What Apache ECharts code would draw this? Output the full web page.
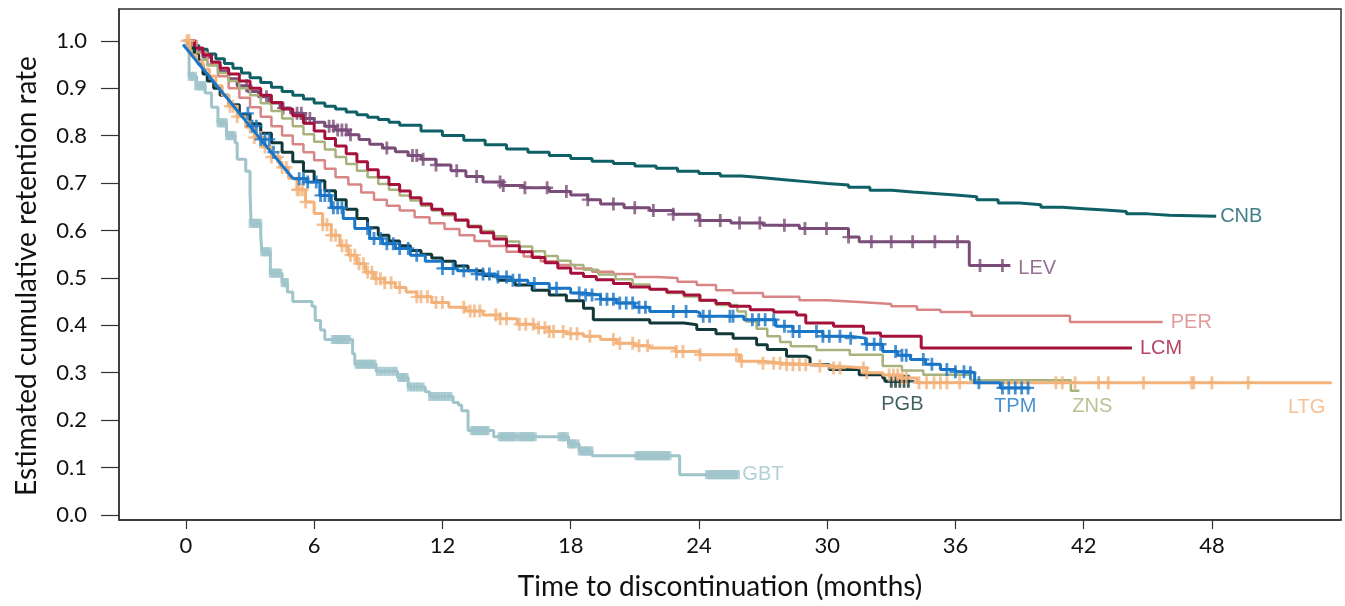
<!DOCTYPE html>
<html><head><meta charset="utf-8">
<script src="https://cdn.jsdelivr.net/npm/echarts@6/dist/echarts.min.js"></script>
<style>html,body{margin:0;padding:0;background:#fff}#c{width:1345px;height:606px}</style>
</head><body><div id="c"></div>
<script>
// ---- Data ----
const X_TICKS = [0, 6, 12, 18, 24, 30, 36, 42, 48];
const Y_TICKS = [0, 0.1, 0.2, 0.3, 0.4, 0.5, 0.6, 0.7, 0.8, 0.9, 1.0];

const T_CNB = [0,0.3,0.6,1,1.4,1.8,2.2,2.6,3,3.5,4,4.5,5,5.5,6,6.5,7,7.5,8,8.5,9,9.5,10,11,12,13,14,15,16,17,18,19,20,21,22,23,24,25,26,27,28,29,30,31,32,33,34,35,36,37,38,39,40,41,42,43,44,45,46,48.2];
const S_CNB = [1,0.99,0.982,0.972,0.962,0.952,0.942,0.932,0.922,0.912,0.902,0.893,0.885,0.877,0.869,0.862,0.856,0.85,0.844,0.839,0.834,0.828,0.822,0.81,0.8,0.79,0.781,0.772,0.765,0.758,0.752,0.746,0.741,0.736,0.731,0.725,0.72,0.715,0.711,0.707,0.703,0.699,0.696,0.691,0.685,0.681,0.678,0.675,0.671,0.665,0.658,0.654,0.649,0.646,0.643,0.64,0.635,0.632,0.63,0.63];

const T_LEV = [0,0.4,0.8,1.2,1.6,2.0,2.4,2.9,3.4,3.9,4.4,4.9,5.5,6.0,6.5,7.0,7.6,8.1,8.6,9.2,9.8,10.4,11.0,11.7,12.4,13.1,13.9,14.8,15.8,17,18,18.8,19.4,20.5,21.7,22.8,24,25.5,27,28.7,31,31.5,36.65,38.57];
const S_LEV = [0.995,0.98,0.965,0.95,0.935,0.92,0.905,0.893,0.882,0.869,0.858,0.847,0.836,0.828,0.82,0.812,0.802,0.792,0.782,0.774,0.766,0.758,0.75,0.738,0.726,0.714,0.702,0.695,0.69,0.682,0.675,0.665,0.656,0.648,0.642,0.634,0.621,0.616,0.611,0.604,0.586,0.576,0.526,0.526];
const C_LEV = [2.84,3.77,4.55,5.2,5.4,5.6,5.8,6.7,6.9,7.1,7.3,7.5,7.7,9.4,10.6,10.8,11.1,11.7,12.67,13.6,14.7,14.85,15.86,16.9,17.8,18.8,20.0,21.0,21.87,22.8,24.05,25.0,25.9,26.85,28.0,28.96,29.97,31.0,32.07,33.0,34.0,35.04,36.1,37.15,38.2];

const T_PER = [0,0.5,1,1.5,2,2.5,3,3.5,4,4.5,5,5.5,6,6.5,7,7.6,8.2,8.8,9.4,10,10.7,11.4,12.1,12.8,13.5,14.2,15,15.8,16.6,17.4,18.2,19,20,21,22,23,23.9,24.8,25.6,27,28.7,30,31.5,33,34.2,35.3,36.76,41.36,45.7];
const S_PER = [1,0.975,0.95,0.925,0.9,0.88,0.86,0.84,0.82,0.8,0.782,0.765,0.748,0.73,0.712,0.697,0.68,0.665,0.652,0.642,0.628,0.615,0.603,0.59,0.578,0.567,0.555,0.545,0.535,0.527,0.52,0.513,0.508,0.502,0.5,0.492,0.485,0.474,0.468,0.46,0.453,0.449,0.445,0.44,0.433,0.428,0.42,0.407,0.407];

const T_LCM = [0,0.4,0.8,1.2,1.6,2.0,2.5,3,3.5,4,4.5,5,5.5,6,6.5,7,7.5,8,8.5,9,9.5,10,10.5,11,11.5,12,12.6,13.2,13.8,14.4,15,15.6,16.2,16.8,17.4,18,18.6,19.2,20,20.8,21.7,22.5,23.3,24.05,24.8,25.45,26.4,27.5,28.57,29,30.3,31.7,32.5,34.4,44.26];
const S_LCM = [1,0.985,0.97,0.955,0.942,0.93,0.915,0.9,0.885,0.87,0.856,0.842,0.826,0.81,0.794,0.778,0.762,0.745,0.728,0.712,0.697,0.683,0.669,0.656,0.645,0.635,0.622,0.608,0.595,0.582,0.568,0.555,0.543,0.532,0.521,0.51,0.503,0.496,0.488,0.481,0.476,0.47,0.464,0.453,0.446,0.44,0.433,0.428,0.422,0.405,0.398,0.384,0.377,0.352,0.352];

const T_ZNS = [0,0.3,0.6,1,1.5,2,2.5,3,3.5,4,4.5,5,5.5,6,6.5,7,7.5,8,8.5,9,9.5,10,10.5,11,11.5,12,12.6,13.2,13.8,14.4,15,15.6,16.2,16.8,17.4,18,18.6,19.3,20.1,20.9,21.7,22.5,23.3,24,24.8,25.8,26.2,26.7,27.2,27.8,28.3,29.5,31.06,32.6,33.5,34.5,36.7,41.4,41.8];
const S_ZNS = [1,0.975,0.96,0.948,0.932,0.915,0.9,0.885,0.868,0.852,0.836,0.82,0.803,0.787,0.771,0.755,0.74,0.726,0.712,0.698,0.686,0.674,0.663,0.652,0.642,0.632,0.621,0.61,0.599,0.588,0.577,0.566,0.556,0.546,0.536,0.527,0.517,0.507,0.497,0.486,0.476,0.468,0.461,0.452,0.443,0.429,0.408,0.393,0.377,0.365,0.356,0.348,0.338,0.314,0.305,0.296,0.284,0.262,0.262];

const T_PGB = [0,0.2,0.4,0.6,0.8,1.0,1.3,1.6,2.0,2.5,3,3.5,4,4.5,5,5.5,6,6.5,7,7.5,8,8.5,9,9.5,10,10.5,11,11.5,12,12.6,13.2,13.9,14.6,15.4,16.2,17,17.8,18.6,19.06,21.7,23.3,23.9,24.8,25.6,26.7,27.2,28.1,29.0,29.2,30.1,31.5,32.6,32.7,33.8];
const S_PGB = [1,0.985,0.97,0.95,0.93,0.915,0.9,0.885,0.865,0.845,0.825,0.805,0.785,0.765,0.745,0.725,0.705,0.684,0.665,0.645,0.625,0.606,0.59,0.578,0.568,0.558,0.55,0.542,0.535,0.525,0.515,0.505,0.495,0.485,0.474,0.464,0.452,0.436,0.412,0.405,0.401,0.391,0.382,0.373,0.359,0.349,0.335,0.331,0.317,0.307,0.296,0.289,0.282,0.282];
const C_PGB = [33.0,33.2,33.4,33.6,33.8];

const T_TPM = [-0.13,0.5,1,1.5,2,2.5,3,3.5,4,4.5,5.02,5.65,6.27,6.8,7.36,7.9,8.6,9.2,9.8,10.5,11.2,12,12.7,13.6,14.5,15.2,16.0,17.0,18.0,18.6,19.4,20.15,21.0,21.7,23.9,24.05,26.1,27.6,28.4,29.8,31.06,31.8,32.6,33.3,33.9,34.6,35.3,36.0,36.7,36.9,38.1,39.5];
const S_TPM = [0.992,0.957,0.93,0.902,0.875,0.847,0.82,0.792,0.765,0.737,0.709,0.702,0.674,0.648,0.625,0.604,0.583,0.572,0.562,0.548,0.535,0.52,0.515,0.508,0.502,0.495,0.488,0.478,0.468,0.464,0.455,0.447,0.438,0.429,0.426,0.419,0.412,0.398,0.387,0.377,0.373,0.36,0.345,0.337,0.328,0.318,0.307,0.302,0.3,0.279,0.268,0.268];
const TPM_DIAGONAL_END = 10; // index where the early straight segment ends
const C_TPM = [2.9,3.1,3.3,3.5,3.7,3.9,4.1,5.3,5.5,5.7,6.1,6.3,6.5,6.7,6.9,7.1,7.3,8.5,8.8,9.1,9.4,9.7,10.0,10.4,10.8,12.0,12.5,13.0,13.6,13.9,14.2,14.6,15.0,15.3,15.6,16.3,17.34,18.4,18.7,19.0,19.4,19.7,20.0,20.3,20.6,20.9,21.2,21.5,22.8,23.4,24.2,24.5,25.45,25.6,26.5,26.8,27.1,27.5,28.0,28.4,28.7,29.5,29.8,30.1,30.6,31.1,31.85,32.2,32.5,33.2,33.5,33.7,34.5,34.9,35.6,36.0,36.4,36.7,37.1,38.2,38.5,38.8,39.1,39.4];

const T_LTG = [0,0.2,0.5,0.8,1.1,1.4,1.7,2.0,2.4,2.8,3.2,3.6,4.0,4.4,4.8,5.2,5.6,6.0,6.4,6.8,7.2,7.6,8.0,8.4,8.8,9.3,9.8,10.3,10.8,11.5,12.3,13.1,13.9,14.7,15.5,16.3,17.0,17.8,18.6,19.4,20.15,21,21.7,22.9,24.05,25.9,27.0,27.95,29.5,30.3,31.85,32.6,33.4,34.2,53.6];
const S_LTG = [1,0.97,0.955,0.94,0.925,0.905,0.885,0.862,0.84,0.818,0.796,0.776,0.755,0.733,0.71,0.686,0.66,0.636,0.612,0.59,0.568,0.548,0.53,0.512,0.498,0.49,0.48,0.47,0.46,0.448,0.438,0.43,0.422,0.414,0.402,0.395,0.387,0.382,0.377,0.37,0.362,0.357,0.352,0.345,0.338,0.324,0.32,0.317,0.314,0.31,0.3,0.295,0.289,0.279,0.278];
const C_LTG = [0.05,0.15,2.06,2.2,2.4,3.0,3.2,3.5,3.7,4.0,4.3,4.5,4.7,5.2,5.3,5.45,5.6,6.4,6.6,6.8,7.0,7.3,7.5,7.7,7.9,8.1,8.3,8.5,8.7,8.9,9.1,9.3,9.6,10.0,10.8,11.0,11.3,11.7,12.0,13.0,13.3,13.5,13.75,14.5,14.7,15.0,15.6,15.9,16.25,16.5,16.8,17.0,17.2,17.65,18.0,18.3,18.9,20.0,20.3,20.9,21.2,21.6,22.95,23.25,24.05,25.75,26.0,27.0,27.5,27.8,28.1,28.4,28.7,29.0,29.66,30.3,30.6,31.7,31.85,32.9,33.1,33.3,33.5,33.7,34.3,34.65,35.0,35.3,35.6,36.2,40.7,41.0,41.6,42.7,43.15,44.8,47.05,47.15,48.0,49.7];

const T_GBT = [-0.1,0.15,0.5,0.9,1.2,1.5,1.9,2.3,2.4,2.8,3.0,3.05,3.5,3.55,3.95,4.5,4.75,5.0,5.9,6.05,6.3,6.5,7.8,7.9,8.9,9.9,10.4,11.2,11.4,12.5,12.75,12.9,13.2,14.4,17.9,18.4,19.0,23.1,25.8];
const S_GBT = [1.0,0.925,0.905,0.89,0.86,0.827,0.8,0.785,0.75,0.725,0.68,0.615,0.59,0.555,0.51,0.49,0.47,0.45,0.44,0.41,0.39,0.37,0.34,0.318,0.303,0.29,0.27,0.26,0.25,0.237,0.232,0.22,0.178,0.165,0.15,0.135,0.125,0.085,0.085];
const C_GBT = [0.2,0.3,0.4,0.5,0.6,0.7,0.8,0.85,1.55,1.65,1.75,1.85,1.95,2.05,2.15,2.25,3.05,3.15,3.25,3.35,3.45,3.6,3.7,3.8,3.9,4.0,4.1,4.2,4.3,4.4,4.55,4.65,4.7,6.9,7.0,7.1,7.2,7.3,7.4,7.5,7.6,8.0,8.1,8.2,8.3,8.4,8.5,8.6,8.7,8.8,9.0,9.2,9.4,9.6,9.8,10.0,10.1,10.2,10.3,10.45,10.6,10.75,10.9,11.05,11.45,11.6,11.75,11.9,12.05,12.2,12.35,13.4,13.5,13.6,13.7,13.8,13.9,14.0,14.1,14.7,14.8,14.9,15.0,15.1,15.2,15.3,15.4,15.6,15.7,15.8,15.9,16.0,16.1,16.2,16.3,17.5,17.6,17.7,17.8,17.95,18.05,18.15,18.3,18.45,18.55,18.65,18.75,18.85,18.95,21.1,21.2,21.3,21.4,21.5,21.6,21.7,21.8,21.9,22.0,22.1,22.2,22.3,22.4,22.5,22.6,24.4,24.5,24.6,24.7,24.8,24.9,25.0,25.1,25.2,25.3,25.4,25.5,25.6,25.7,25.8];

// ---- Rendering ----
function survAt(T, S, t) { let v = S[0]; for (let i = 0; i < T.length; i++) { if (T[i] <= t) v = S[i]; else break; } return v; }
const CROSS = 'path://M4.6,0H7.4V5.3H12V7.7H7.4V13H4.6V7.7H0V5.3H4.6Z';

const drugs = [
  {name:'GBT', T:T_GBT, S:S_GBT, C:C_GBT, color:'#9fc4ca', w:3, sym:'rect', size:[5,9], lab:{position:'right', distance:5}},
  {name:'CNB', T:T_CNB, S:S_CNB, C:[], color:'#0f6066', w:3, lab:{position:'right', distance:4}},
  {name:'LEV', T:T_LEV, S:S_LEV, C:C_LEV, color:'#7a4d78', w:3, lab:{position:'right', distance:8, offset:[0,3]}},
  {name:'PER', T:T_PER, S:S_PER, C:[], color:'#d98585', w:2.5, lab:{position:'right', distance:8}},
  {name:'ZNS', T:T_ZNS, S:S_ZNS, C:[], color:'#a7b27d', w:2.5, lab:{position:'inside', offset:[13,16]}},
  {name:'LCM', T:T_LCM, S:S_LCM, C:[], color:'#a5113b', w:3, lab:{position:'right', distance:8}},
  {name:'PGB', T:T_PGB, S:S_PGB, C:C_PGB, color:'#11393a', w:3, lab:{position:'inside', offset:[-6,23]}},
  {name:'LTG', T:T_LTG, S:S_LTG, C:C_LTG, color:'#f3b27a', w:3, lab:{position:'inside', offset:[-25,24]}},
  {name:'TPM', T:T_TPM, S:S_TPM, C:C_TPM, color:'#1a76c6', w:3, lab:{position:'inside', offset:[-15,19]}}
];

const series = [];
drugs.forEach((d, k) => {
  const pts = d.T.map((t, i) => [t, d.S[i]]);
  if (d.name === 'TPM') {
    series.push({type:'line', name:d.name+'-early', data:pts.slice(0, TPM_DIAGONAL_END + 1), symbol:'none', lineStyle:{color:d.color, width:d.w}, z:2+k});
    series.push({type:'line', name:d.name, data:pts.slice(TPM_DIAGONAL_END), step:'end', symbol:'none', lineStyle:{color:d.color, width:d.w}, z:2+k});
  } else {
    series.push({type:'line', name:d.name, data:pts, step:'end', symbol:'none', lineStyle:{color:d.color, width:d.w}, z:2+k});
  }
  if (d.C.length) {
    series.push({type:'scatter', data:d.C.map(t => [t, survAt(d.T, d.S, t)]), symbol:d.sym || CROSS, symbolSize:d.size || [12,13], itemStyle:{color:d.color}, z:2+k, silent:true});
  }
  const last = pts[pts.length - 1];
  series.push({type:'scatter', data:[last], symbolSize:0, z:20, silent:true,
    label:Object.assign({show:true, formatter:d.name, color:d.color, fontFamily:'Liberation Sans', fontSize:20}, d.lab)});
});

const chart = echarts.init(document.getElementById('c'), null, {renderer:'canvas'});
chart.setOption({
  animation:false,
  backgroundColor:'#fff',
  grid:{left:119, right:4, top:9, bottom:83, show:true, borderColor:'#333', borderWidth:1.5, backgroundColor:'transparent'},
  xAxis:{type:'value', min:-3.13, max:54.04,
    name:'Time to discontinuation (months)', nameLocation:'middle', nameGap:53,
    nameTextStyle:{fontFamily:'Lato', fontSize:28, color:'#111', padding:[0,20,0,0]},
    axisLine:{show:true, onZero:false, lineStyle:{color:'#333', width:1.5}},
    axisTick:{show:true, customValues:X_TICKS, length:9, lineStyle:{color:'#333', width:1.2}},
    axisLabel:{customValues:X_TICKS, margin:15, fontFamily:'Lato', fontSize:22, color:'#111'},
    splitLine:{show:false}},
  yAxis:{type:'value', min:-0.0105, max:1.067,
    name:'Estimated cumulative retention rate', nameLocation:'middle', nameGap:78,
    nameTextStyle:{fontFamily:'Lato', fontSize:28, color:'#111', padding:[0,23,0,0]},
    axisLine:{show:true, onZero:false, lineStyle:{color:'#333', width:1.5}},
    axisTick:{show:true, customValues:Y_TICKS, length:18, lineStyle:{color:'#333', width:1.2}},
    axisLabel:{customValues:Y_TICKS, margin:32, fontFamily:'Lato', fontSize:22, color:'#111', formatter:v => v.toFixed(1)},
    splitLine:{show:false}},
  series:series
});
</script></body></html>
